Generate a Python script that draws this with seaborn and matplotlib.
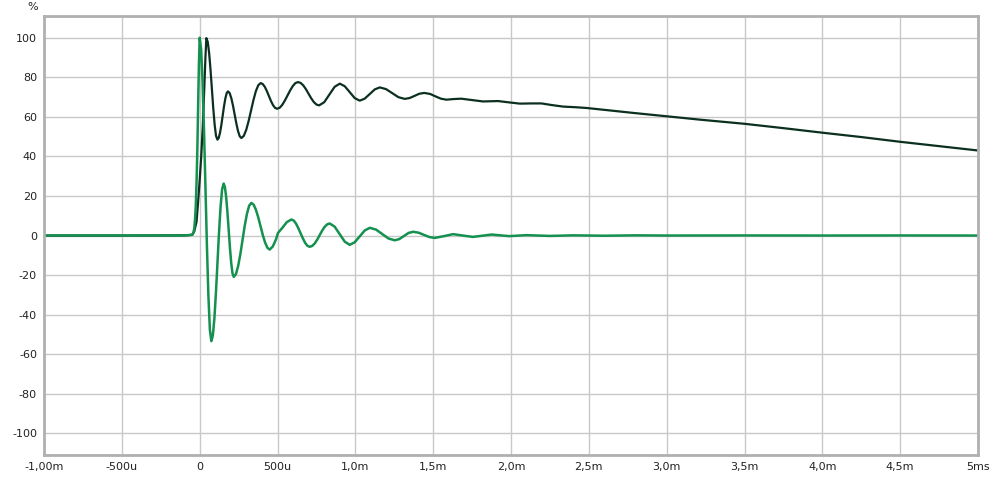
import numpy as np
import pandas as pd
import matplotlib
matplotlib.use("Agg")
import matplotlib.pyplot as plt
import seaborn as sns

# Impulse response (%), time in ms
impulse_t = [-1.0, -0.5, -0.1, -0.06, -0.045, -0.04, -0.035, -0.03, -0.025, -0.02, -0.015, -0.01, -0.005, 0.0,
             0.0094, 0.0188, 0.0281, 0.0375, 0.0469, 0.0563, 0.0656, 0.075,
             0.0849, 0.0948, 0.1046, 0.1145, 0.1244, 0.1343, 0.1441, 0.154,
             0.1621, 0.1703, 0.1784, 0.1865, 0.1946, 0.2028, 0.2109, 0.219,
             0.2331, 0.2473, 0.2614, 0.2755, 0.2896, 0.3038, 0.3179, 0.332,
             0.3468, 0.3615, 0.3763, 0.391, 0.4058, 0.4205, 0.4353, 0.45,
             0.47, 0.49, 0.503, 0.53, 0.56, 0.589,
             0.6038, 0.6185, 0.6333, 0.648, 0.6628, 0.6775, 0.6923, 0.707,
             0.723, 0.739, 0.755, 0.771, 0.787, 0.803, 0.819, 0.835,
             0.867, 0.8995, 0.932, 0.964,
             0.996, 1.0285, 1.061, 1.093,
             1.133, 1.173, 1.213, 1.253,
             1.2825, 1.312, 1.3415, 1.371,
             1.406, 1.44, 1.475, 1.51,
             1.57, 1.628, 1.69, 1.755, 1.815, 1.875, 1.93, 1.99,
             2.1, 2.25, 2.4, 2.6, 2.8, 3.0, 3.5, 4.0, 4.5, 5.0]
impulse_v = [0.0, 0.0, 0.0, 0.3, 0.5, 1.5, 3.5, 8, 15, 27, 43, 65, 86, 100,
             94.2, 77.5, 52.7, 23.3, -6.1, -30.9, -47.6, -53.4,
             -50.4, -41.7, -28.8, -13.55, 1.7, 14.6, 23.3, 26.3,
             24.5, 19.4, 11.7, 2.7, -6.3, -14.0, -19.1, -20.9,
             -19.5, -15.4, -9.4, -2.2, 5.0, 11.0, 15.1, 16.5,
             15.6, 13.0, 9.2, 4.7, 0.2, -3.6, -6.2, -7.1,
             -5.5, -2.0, 1.3, 3.8, 6.8, 8.1,
             7.6, 6.1, 3.8, 1.2, -1.4, -3.7, -5.2, -5.7,
             -5.25, -4.0, -2.1, 0.2, 2.5, 4.4, 5.65, 6.1,
             4.5, 0.7, -3.1, -4.7,
             -3.4, -0.4, 2.6, 3.9,
             3.0, 0.75, -1.5, -2.4,
             -1.8, -0.25, 1.3, 1.9,
             1.45, 0.35, -0.75, -1.2,
             -0.3, 0.7, 0.0, -0.7, -0.1, 0.5, 0.1, -0.3,
             0.2, -0.2, 0.1, -0.1, 0.1, 0.0, 0.05, 0.0, 0.05, 0.0]

# Step response (%)
step_t = [-1.0, -0.5, -0.1, -0.05, -0.035, -0.02, -0.01, 0.0, 0.01, 0.02, 0.03, 0.037, 0.043,
          0.0519, 0.0608, 0.0696, 0.0785, 0.0874, 0.0963, 0.1051, 0.114,
          0.1225, 0.131, 0.1395, 0.148, 0.1565, 0.165, 0.1735, 0.182,
          0.1928, 0.2035, 0.2143, 0.225, 0.2358, 0.2465, 0.2573, 0.268,
          0.2835, 0.299, 0.3145, 0.33, 0.3455, 0.361, 0.3765, 0.392,
          0.4051, 0.4183, 0.4314, 0.4445, 0.4576, 0.4708, 0.4839, 0.497,
          0.5139, 0.5308, 0.5476, 0.5645, 0.5814, 0.5983, 0.6151, 0.632,
          0.6489, 0.6658, 0.6826, 0.6995, 0.7164, 0.7333, 0.7501, 0.767,
          0.80, 0.8335, 0.867, 0.9,
          0.932, 0.964, 0.996, 1.028,
          1.06, 1.0925, 1.125, 1.157,
          1.197, 1.237, 1.277, 1.317,
          1.348, 1.38, 1.411, 1.443,
          1.48, 1.514, 1.55, 1.585,
          1.63, 1.68, 1.75, 1.82, 1.87, 1.917, 1.99, 2.057, 2.13, 2.196, 2.26,
          2.335, 2.41, 2.485, 2.63, 2.785, 3.0, 3.213, 3.5, 3.75, 4.0, 4.25, 4.5, 4.75, 5.0]
step_v = [0.0, 0.0, 0.1, 0.3, 2, 7, 17, 28, 40, 55, 75, 90, 99.8,
          97.9, 92.3, 84.0, 74.15, 64.3, 56.0, 50.4, 48.5,
          49.4, 52.1, 56.0, 60.7, 65.4, 69.3, 72.0, 72.9,
          72.0, 69.4, 65.6, 61.1, 56.6, 52.8, 50.2, 49.3,
          50.4, 53.4, 57.9, 63.2, 68.5, 73.0, 76.0, 77.1,
          76.6, 75.2, 73.1, 70.6, 68.1, 66.0, 64.6, 64.1,
          64.6, 66.1, 68.3, 70.85, 73.4, 75.6, 77.1, 77.6,
          77.15, 75.9, 74.0, 71.7, 69.4, 67.5, 66.25, 65.8,
          67.4, 71.3, 75.2, 76.8,
          75.5, 72.5, 69.5, 68.2,
          69.2, 71.55, 73.9, 74.9,
          74.05, 72.0, 69.95, 69.1,
          69.5, 70.6, 71.7, 72.1,
          71.6, 70.4, 69.2, 68.7,
          69.0, 69.2, 68.5, 67.8, 67.9, 68.0, 67.3, 66.7, 66.8, 66.8, 66.0,
          65.2, 64.9, 64.5, 63.3, 62.0, 60.3, 58.6, 56.5, 54.3, 52.0, 49.8, 47.4, 45.2, 43.0]

x_ticks = [-1.0, -0.5, 0.0, 0.5, 1.0, 1.5, 2.0, 2.5, 3.0, 3.5, 4.0, 4.5, 5.0]
x_labels = ["-1,00m", "-500u", "0", "500u", "1,0m", "1,5m", "2,0m", "2,5m",
            "3,0m", "3,5m", "4,0m", "4,5m", "5ms"]
y_ticks = list(range(-100, 101, 20))

imp_df = pd.DataFrame({"t": impulse_t, "v": impulse_v})
step_df = pd.DataFrame({"t": step_t, "v": step_v})

sns.set_style("white")
plt.rcParams["font.family"] = ["DejaVu Sans"]
plt.rcParams["axes.unicode_minus"] = False

fig = plt.figure(figsize=(10, 4.78), dpi=100)
ax = fig.add_axes([0.044, 0.048, 0.934, 0.9185])

sns.lineplot(data=step_df, x="t", y="v", ax=ax, color="#0b3020", linewidth=1.6, sort=False)
sns.lineplot(data=imp_df, x="t", y="v", ax=ax, color="#14904f", linewidth=1.8, sort=False)

ax.set_xlim(-1.0, 5.0)
ax.set_ylim(-111, 111)
ax.set_xticks(x_ticks)
ax.set_xticklabels(x_labels)
ax.set_yticks(y_ticks)
ax.set_xlabel("")
ax.set_ylabel("")
ax.grid(True, color="#c8c8c8", linewidth=1)
ax.set_axisbelow(True)
ax.tick_params(axis="both", length=0, labelsize=8, colors="#222222", pad=5)

for s in ax.spines.values():
    s.set_visible(True)
    s.set_color("#b0b0b0")
    s.set_linewidth(2)

fig.text(0.033, 0.985, "%", fontsize=8, color="#222222", ha="center", va="center")

fig.savefig("out.png", dpi=100)
